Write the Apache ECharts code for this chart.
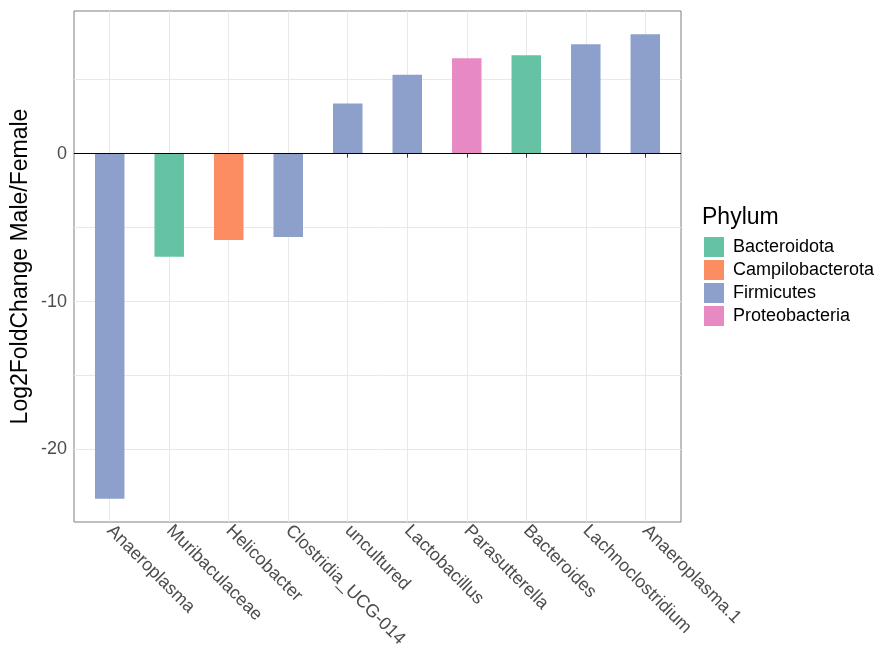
<!DOCTYPE html>
<html>
<head>
<meta charset="utf-8">
<script src="https://cdn.jsdelivr.net/npm/echarts@6/dist/echarts.min.js"></script>
<style>
  html, body { margin: 0; padding: 0; background: #fff; }
  #bar_chart { width: 882px; height: 654px; }
</style>
</head>
<body>
<div id="bar_chart"></div>
<script>
  // genus names, in plot order
  const categories = ['Anaeroplasma', 'Muribaculaceae', 'Helicobacter', 'Clostridia_UCG-014', 'uncultured',
    'Lactobacillus', 'Parasutterella', 'Bacteroides', 'Lachnoclostridium', 'Anaeroplasma.1'];
  const log2fc = [-23.33, -6.97, -5.84, -5.64, 3.39, 5.33, 6.45, 6.65, 7.40, 8.07];
  const phylumOf = ['Firmicutes', 'Bacteroidota', 'Campilobacterota', 'Firmicutes', 'Firmicutes',
    'Firmicutes', 'Proteobacteria', 'Bacteroidota', 'Firmicutes', 'Firmicutes'];
  const phyla = ['Bacteroidota', 'Campilobacterota', 'Firmicutes', 'Proteobacteria'];
  const phylumColors = ['#66C2A5', '#FC8D62', '#8DA0CB', '#E78AC3'];
  const yTicks = [-20, -10, 0];
  const yGridTicks = [-20, -15, -10, -5, 0, 5];

  const font = 'Liberation Sans, Arial, sans-serif';
  const chart = echarts.init(document.getElementById('bar_chart'));

  const xIdx = categories.map((c, i) => i);

  let series = phyla.map((p, k) => ({
    name: p,
    type: 'bar',
    xAxisIndex: 0,
    yAxisIndex: 0,
    barWidth: 29.5,
    barGap: '-100%',
    itemStyle: { color: phylumColors[k] },
    data: log2fc.map((v, i) => [i, v]).filter((d, i) => phylumOf[i] === p)
  }));
  series[0].markLine = {
    silent: true,
    symbol: 'none',
    label: { show: false },
    lineStyle: { color: '#000', width: 1.2, type: 'solid' },
    data: [{ yAxis: 0 }]
  };

  let option = {
    animation: false,
    backgroundColor: '#fff',
    title: {
      text: 'Phylum',
      left: 702,
      top: 206,
      padding: 0,
      textStyle: { fontFamily: font, fontSize: 23, fontWeight: 'normal', color: '#000' }
    },
    legend: {
      orient: 'vertical',
      left: 704,
      top: 237,
      padding: 0,
      itemWidth: 20,
      itemHeight: 20,
      itemGap: 3,
      icon: 'rect',
      data: phyla,
      textStyle: { fontFamily: font, fontSize: 18, color: '#000', padding: [0, 0, 0, 4] }
    },
    grid: {
      left: 74,
      right: 201,
      top: 11,
      bottom: 132,
      show: true,
      borderColor: '#7F7F7F',
      borderWidth: 1,
      backgroundColor: '#fff'
    },
    xAxis: [{
      type: 'value',
      min: -0.6,
      max: 9.6,
      splitNumber: 10,
      axisLine: { show: false },
      axisTick: { show: true, length: 4, customValues: xIdx, lineStyle: { color: '#333' } },
      splitLine: { show: true, lineStyle: { color: '#E8E8E8', width: 1 } },
      axisLabel: {
        customValues: xIdx,
        rotate: -45,
        margin: 6,
        fontFamily: font,
        fontSize: 18,
        color: '#4D4D4D',
        formatter: v => categories[Math.round(v)]
      }
    }],
    yAxis: [{
      type: 'value',
      min: -24.9,
      max: 9.64,
      splitNumber: 3,
      name: 'Log2FoldChange Male/Female',
      nameLocation: 'middle',
      nameGap: 42,
      nameMoveOverlap: false,
      nameTextStyle: { fontFamily: font, fontSize: 23, color: '#000' },
      axisLine: { show: false },
      axisTick: { show: true, length: 4, customValues: yTicks, lineStyle: { color: '#333' } },
      splitLine: { show: false },
      axisLabel: { customValues: yTicks, margin: 7, fontFamily: font, fontSize: 18, color: '#4D4D4D' }
    }, {
      // only used for the horizontal grid lines
      type: 'value',
      position: 'left',
      min: -24.9,
      max: 9.64,
      axisLine: { show: false },
      axisTick: { show: false, customValues: yGridTicks },
      axisLabel: { show: false, customValues: yGridTicks },
      splitLine: { show: true, lineStyle: { color: '#E8E8E8', width: 1 } }
    }],
    series: series
  };
  chart.setOption(option);
</script>
</body>
</html>
